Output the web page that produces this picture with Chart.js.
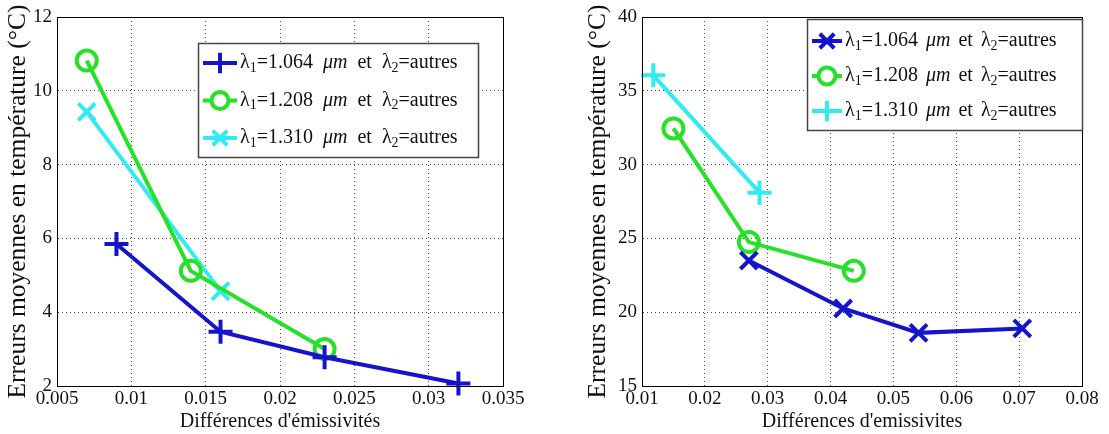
<!DOCTYPE html>
<html>
<head>
<meta charset="utf-8">
<script src="https://cdn.jsdelivr.net/npm/chart.js@4/dist/chart.umd.min.js"></script>
<style>
  body { margin: 0; background: #fff; }
  canvas { position: absolute; top: 0; }
  #left { left: 0; }
  #right { left: 580px; }
</style>
</head>
<body>
<canvas id="left" width="540" height="434"></canvas>
<canvas id="right" width="529" height="434"></canvas>
<script>
// left panel data
const leftXTicks = [0.005, 0.01, 0.015, 0.02, 0.025, 0.03, 0.035]
const leftYTicks = [2, 4, 6, 8, 10, 12]
const leftBlueX = [0.009, 0.016, 0.023, 0.032]
const leftBlueY = [5.85, 3.47, 2.78, 2.07]
const leftGreenX = [0.007, 0.014, 0.023]
const leftGreenY = [10.82, 5.12, 3.0]
const leftCyanX = [0.007, 0.016]
const leftCyanY = [9.43, 4.57]

// right panel data
const rightXTicks = [0.01, 0.02, 0.03, 0.04, 0.05, 0.06, 0.07, 0.08]
const rightYTicks = [15, 20, 25, 30, 35, 40]
const rightBlueX = [0.027, 0.042, 0.054, 0.0705]
const rightBlueY = [23.5, 20.25, 18.6, 18.9]
const rightGreenX = [0.015, 0.027, 0.0437]
const rightGreenY = [32.45, 24.75, 22.8]
const rightCyanX = [0.0118, 0.0287]
const rightCyanY = [36.05, 28.1]

const lambdaValues = ['1.064', '1.208', '1.310']

const BLUE = '#1414cc'
const GREEN = '#26e226'
const CYAN = '#30ecf0'
const SERIF = '"Liberation Serif", "DejaVu Serif", serif'

function pts(xs, ys) {
  return xs.map((x, i) => ({ x: x, y: ys[i] }))
}

function series(xs, ys, color, style, val) {
  return {
    label: 'λ1=' + val + ' μm et λ2=autres',
    lambda: val,
    data: pts(xs, ys),
    showLine: true,
    borderColor: color,
    backgroundColor: 'transparent',
    borderWidth: 4,
    pointStyle: style,
    pointRadius: style === 'circle' ? 10 : 12,
    pointBorderWidth: 4,
    pointBorderColor: color,
    pointBackgroundColor: 'transparent',
    clip: false
  }
}

function fmt(v) {
  return String(+v.toFixed(4))
}

// black box around the plot
const framePlugin = {
  id: 'frame',
  afterDraw(chart) {
    const a = chart.chartArea
    const ctx = chart.ctx
    ctx.save()
    ctx.strokeStyle = '#000'
    ctx.lineWidth = 1
    ctx.strokeRect(a.left + 0.5, a.top + 0.5, a.right - a.left, a.bottom - a.top)
    ctx.restore()
  }
}

// matlab style legend box inside the plot
const boxLegend = {
  id: 'boxLegend',
  afterDraw(chart, args, opts) {
    const ctx = chart.ctx
    ctx.save()
    ctx.fillStyle = '#fff'
    ctx.fillRect(opts.x, opts.y, opts.w, opts.h)
    ctx.strokeStyle = '#444'
    ctx.lineWidth = 1.5
    ctx.strokeRect(opts.x + 0.5, opts.y + 0.5, opts.w, opts.h)

    chart.data.datasets.forEach((ds, i) => {
      const y = opts.y + opts.rowTop + i * opts.rowGap
      const x1 = opts.x + 5
      const x2 = x1 + opts.sample
      ctx.strokeStyle = ds.borderColor
      ctx.lineWidth = 4
      ctx.beginPath()
      ctx.moveTo(x1, y)
      ctx.lineTo(x2, y)
      ctx.stroke()
      ctx.fillStyle = '#fff'
      ctx.lineWidth = ds.pointBorderWidth
      Chart.helpers.drawPoint(ctx, {
        pointStyle: ds.pointStyle,
        radius: ds.pointRadius * 0.85,
        borderWidth: ds.pointBorderWidth
      }, (x1 + x2) / 2, y)

      // text with subscripts and italic unit
      const parts = [
        { t: 'λ' }, { t: '1', sub: true }, { t: '=' + ds.lambda }, { gap: 1 },
        { t: 'μm', it: true }, { gap: 1 }, { t: 'et' }, { gap: 1 }, { t: 'λ' },
        { t: '2', sub: true }, { t: '=autres' }
      ]
      let tx = x2 + 3
      ctx.fillStyle = '#111'
      ctx.textBaseline = 'middle'
      ctx.textAlign = 'left'
      parts.forEach(p => {
        if (p.gap) { tx += opts.gap; return }
        ctx.font = (p.it ? 'italic ' : '') + (p.sub ? '14px ' : '20px ') + SERIF
        ctx.fillText(p.t, tx, p.sub ? y + 5 : y)
        tx += ctx.measureText(p.t).width
      })
    })
    ctx.restore()
  }
}

function makeChart(id, datasets, xTicks, yTicks, xTitle, yWidth, rightPad, legendBox) {
  return new Chart(document.getElementById(id), {
    type: 'scatter',
    data: { datasets: datasets },
    plugins: [framePlugin, boxLegend],
    options: {
      responsive: false,
      animation: false,
      devicePixelRatio: 1,
      layout: { padding: { top: 17, right: rightPad, left: 0, bottom: 0 } },
      plugins: {
        legend: { display: false },
        tooltip: { enabled: false },
        boxLegend: legendBox
      },
      scales: {
        x: {
          type: 'linear',
          min: xTicks[0],
          max: xTicks[xTicks.length - 1],
          afterBuildTicks: ax => { ax.ticks = xTicks.map(v => ({ value: v })) },
          afterFit: ax => { ax.height = 48 },
          grid: { color: '#444', lineWidth: 1, drawTicks: false },
          border: { display: true, color: '#000', dash: [1, 3] },
          ticks: {
            color: '#111', padding: 2, maxRotation: 0, autoSkip: false,
            font: { family: SERIF, size: 19 },
            callback: v => fmt(v)
          },
          title: {
            display: true, text: xTitle, color: '#111',
            font: { family: SERIF, size: 20 }, padding: { top: 0, bottom: 0 }
          }
        },
        y: {
          type: 'linear',
          min: yTicks[0],
          max: yTicks[yTicks.length - 1],
          afterBuildTicks: ax => { ax.ticks = yTicks.map(v => ({ value: v })) },
          afterFit: ax => { ax.width = yWidth },
          grid: { color: '#444', lineWidth: 1, drawTicks: false },
          border: { display: true, color: '#000', dash: [1, 3] },
          ticks: {
            color: '#111', padding: 5, autoSkip: false,
            font: { family: SERIF, size: 19 },
            callback: v => fmt(v)
          },
          title: {
            display: true, text: 'Erreurs moyennes en température (°C)', color: '#111',
            font: { family: SERIF, size: 25.5 }, padding: { top: 3, bottom: 0 }
          }
        }
      }
    }
  })
}

makeChart('left', [
  series(leftBlueX, leftBlueY, BLUE, 'cross', lambdaValues[0]),
  series(leftGreenX, leftGreenY, GREEN, 'circle', lambdaValues[1]),
  series(leftCyanX, leftCyanY, CYAN, 'crossRot', lambdaValues[2])
], leftXTicks, leftYTicks, 'Différences d\'émissivités', 57, 37,
  { x: 198, y: 43, w: 280, h: 114, rowTop: 20, rowGap: 37.5, sample: 34, gap: 10 })

makeChart('right', [
  series(rightBlueX, rightBlueY, BLUE, 'crossRot', lambdaValues[0]),
  series(rightGreenX, rightGreenY, GREEN, 'circle', lambdaValues[1]),
  series(rightCyanX, rightCyanY, CYAN, 'cross', lambdaValues[2])
], rightXTicks, rightYTicks, 'Différences d\'emissivites', 62, 27,
  { x: 227, y: 19, w: 275, h: 111, rowTop: 22, rowGap: 35, sample: 30, gap: 8 })
</script>
</body>
</html>
